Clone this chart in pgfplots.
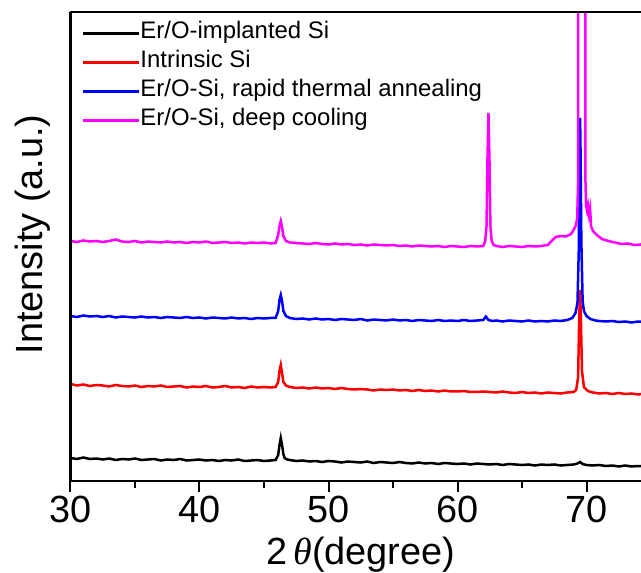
\documentclass[border=0pt]{standalone}
\usepackage{fontspec}
\setmainfont{Liberation Sans}
\newfontfamily\thetafont{Liberation Serif}
\usepackage{pgfplots}
\pgfplotsset{compat=1.18}

\definecolor{xmag}{RGB}{255,0,255}

\begin{document}
\begin{tikzpicture}
\useasboundingbox (-70.5bp,-92bp) rectangle (570.5bp,481bp);
\begin{axis}[
  at={(0,0)}, anchor=south west,
  scale only axis, width=580.5bp, height=469bp,
  xmin=30, xmax=75, ymin=0, ymax=469,
  axis x line*=box, axis y line*=left,
  axis on top,
  axis line style={line width=2.4bp, black},
  xtick={30,40,50,60,70}, minor x tick num=1,
  ytick=\empty,
  xtick pos=bottom, tick align=outside,
  major tick length=11bp, minor tick length=7bp,
  every tick/.style={line width=2bp, black},
  /pgf/number format/assume math mode=true,
  tick label style={font=\fontsize{38}{38}\selectfont},
  xticklabel style={anchor=base, yshift=-30bp},
  xlabel={2\,{\thetafont\itshape θ}(degree)},
  xlabel style={font=\fontsize{38}{38}\selectfont, at={(axis description cs:0.5,0)}, anchor=base, yshift=-83bp},
  ylabel={Intensity (a.u.)},
  ylabel style={font=\fontsize{38}{38}\selectfont, at={([xshift=-38bp]axis description cs:0,0.5256)}, anchor=center},
  legend style={at={(0,1)}, anchor=north west, xshift=11.2bp, yshift=-6.6bp,
    draw=none, fill=none, inner sep=0pt, row sep=0pt,
    font=\fontsize{24}{24}\selectfont,
    nodes={text height=17bp, text depth=6bp, inner ysep=3bp, inner xsep=0pt}},
  legend cell align=left,
  legend image code/.code={\draw[#1, line width=2.6bp] (0bp,0bp) -- (56bp,0bp);},
  every axis plot/.append style={line width=2.5bp},
]
\addplot[black] coordinates {
(30,23) (30.5,22) (31,23.5) (31.5,22) (32,22.5) (32.5,21.5) (33,22.5) (33.5,21) (34,22) (34.5,21.5)
(35,22.5) (35.5,21) (36,21.5) (36.5,22) (37,20.5) (37.5,21.5) (38,21) (38.5,22) (39,20.5) (39.5,21)
(40,21.5) (40.5,20.5) (41,21) (41.5,20) (42,21) (42.5,20.5) (43,21.5) (43.5,20) (44,20.5) (44.5,21)
(45,20) (45.5,20.5) (45.9,21) (46.1,26) (46.2,36) (46.3,43) (46.4,36) (46.5,27) (46.6,23) (46.8,21.5)
(47,21) (47.5,20) (48,20.5) (48.5,19.5) (49,20) (49.5,19) (50,20) (50.5,19.5) (51,18.5) (51.5,19.5)
(52,19) (52.5,18.5) (53,19.5) (53.5,18) (54,19) (54.5,18.5) (55,18) (55.5,19) (56,18) (56.5,17.5)
(57,18.5) (57.5,17.5) (58,18) (58.5,17) (59,18) (59.5,17.5) (60,17) (60.5,17.5) (61,16.5) (61.5,17.5)
(62,17) (62.5,16.5) (63,17) (63.5,16) (64,17) (64.5,16.5) (65,16) (65.5,16.5) (66,15.5) (66.5,16.5)
(67,16) (67.5,16.5) (68,15.5) (68.5,16) (69,16.5) (69.3,17.5) (69.5,19) (69.7,17) (70,16) (70.5,15.5)
(71,16) (71.5,15) (72,15.5) (72.5,14.5) (73,15.5) (73.5,14.5) (74,15) (74.5,14.5) (75,15)
};
\addlegendentry{Er/O-implanted Si}
\addplot[red] coordinates {
(30,97) (30.5,95.5) (31,96.5) (31.5,95) (32,96) (32.5,95.5) (33,94.5) (33.5,96) (34,95) (34.5,94.5)
(35,95.5) (35.5,94) (36,95) (36.5,94.5) (37,95.5) (37.5,94) (38,94.5) (38.5,95) (39,93.5) (39.5,94.5)
(40,94) (40.5,95) (41,93.5) (41.5,94) (42,95) (42.5,93.5) (43,94) (43.5,93) (44,94.5) (44.5,93.5)
(45,94) (45.5,93.5) (45.9,94) (46.1,99) (46.2,110) (46.3,116) (46.4,108) (46.5,99) (46.7,95.5)
(47,94) (47.5,93) (48,93.5) (48.5,92.5) (49,93.5) (49.5,92.5) (50,93) (50.5,92) (51,93) (51.5,92)
(52,91.5) (52.5,92) (53,91.5) (53.5,90.5) (54,91.5) (54.5,91) (55,91.5) (55.5,90.5) (56,91) (56.5,90)
(57,91) (57.5,90) (58,90.5) (58.5,89.5) (59,90.5) (59.5,89.5) (60,89.5) (60.5,90) (61,89) (61.5,89)
(62,89.5) (62.5,89) (63,88.5) (63.5,89.5) (64,88.5) (64.5,88) (65,89) (65.5,88) (66,88.5) (66.5,87.5)
(67,88.5) (67.5,88) (68,87.5) (68.5,88.5) (69,89) (69.2,91) (69.35,104) (69.43,160) (69.5,191)
(69.57,160) (69.65,110) (69.8,94) (70.1,90) (70.5,88.5) (71,87.5) (71.5,88) (72,87) (72.5,88)
(73,87) (73.5,87.5) (74,86.5) (74.5,87.5) (75,87)
};
\addlegendentry{Intrinsic Si}
\addplot[blue] coordinates {
(30,165) (30.5,164) (31,165.5) (31.5,164.5) (32,165) (32.5,164) (33,165) (33.5,163.5) (34,164.5) (34.5,164)
(35,163.5) (35.5,164.5) (36,163.5) (36.5,164) (37,163) (37.5,164) (38,163.5) (38.5,163) (39,164) (39.5,163)
(40,163.5) (40.5,162.5) (41,163.5) (41.5,163) (42,162.5) (42.5,163.5) (43,162.5) (43.5,163) (44,162) (44.5,163)
(45,162.5) (45.5,163) (45.9,163) (46.1,170) (46.2,181) (46.3,186) (46.4,180) (46.5,170) (46.7,165)
(47,163) (47.5,162) (48,162.5) (48.5,161.5) (49,162.5) (49.5,161.5) (50,162) (50.5,161) (51,162) (51.5,161.5)
(52,161) (52.5,162) (53,160.5) (53.5,161.5) (54,161) (54.5,160.5) (55,161.5) (55.5,160.5) (56,161) (56.5,160)
(57,161) (57.5,160.5) (58,160) (58.5,161) (59,160) (59.5,160.5) (60,160) (60.5,161) (61,160) (61.5,160.5)
(62,161) (62.2,164.5) (62.4,161) (62.7,160) (63,160.5) (63.5,159.5) (64,160.5) (64.5,160) (65,159.5) (65.5,160.5)
(66,159.5) (66.5,160) (67,159.5) (67.5,160.5) (68,160) (68.5,161) (68.9,163) (69.15,168) (69.3,178)
(69.4,230) (69.47,340) (69.5,363) (69.53,340) (69.6,240) (69.7,180) (69.8,170) (70,165) (70.3,162)
(70.7,160.5) (71,160) (71.5,159.5) (72,160) (72.5,159) (73,159.5) (73.5,158.5) (74,159.5) (74.5,159) (75,158.5)
};
\addlegendentry{Er/O-Si, rapid thermal annealing}
\addplot[xmag] coordinates {
(30,240) (30.5,239) (31,240.5) (31.5,239.5) (32,240) (32.5,239) (33,240) (33.5,241.5) (34,239.5) (34.5,239)
(35,240) (35.5,238.5) (36,239.5) (36.5,239) (37,238.5) (37.5,239.5) (38,238.5) (38.5,239) (39,238) (39.5,239)
(40,238.5) (40.5,239.5) (41,238) (41.5,238.5) (42,239) (42.5,238) (43,238.5) (43.5,237.5) (44,238.5) (44.5,238)
(45,238.5) (45.5,237.5) (45.9,238) (46.1,246) (46.2,255) (46.3,260) (46.4,254) (46.5,245) (46.7,240)
(47,238.5) (47.5,238) (48,237.5) (48.5,237) (49,238) (49.5,237) (50,236.5) (50.5,237.5) (51,236.5) (51.5,237)
(52,236) (52.5,236.5) (53,235.5) (53.5,236.5) (54,236) (54.5,235.5) (55,236) (55.5,235) (56,235.5) (56.5,234.5)
(57,235.5) (57.5,235) (58,234.5) (58.5,235) (59,234) (59.5,235) (60,234.5) (60.5,234) (61,235) (61.5,234.5)
(62,235) (62.15,240) (62.25,255) (62.32,320) (62.4,368) (62.48,320) (62.55,255) (62.65,240) (62.8,236)
(63,235) (63.5,234) (64,235) (64.5,234.5) (65,234) (65.5,235) (66,234.5) (66.5,235) (67,236) (67.3,240)
(67.6,244) (68,245) (68.4,244.5) (68.8,247) (69,251) (69.15,255) (69.28,262) (69.35,300) (69.38,900)
(69.88,900) (69.92,300) (69.97,275) (70.05,270) (70.12,275) (70.2,266) (70.28,272) (70.35,255) (70.5,250)
(70.8,246) (71.2,242) (71.7,240) (72.2,238.5) (72.7,237) (73.2,237.5) (73.7,236) (74.2,236.5) (75,235)
};
\addlegendentry{Er/O-Si, deep cooling}
\end{axis}
\end{tikzpicture}
\end{document}
